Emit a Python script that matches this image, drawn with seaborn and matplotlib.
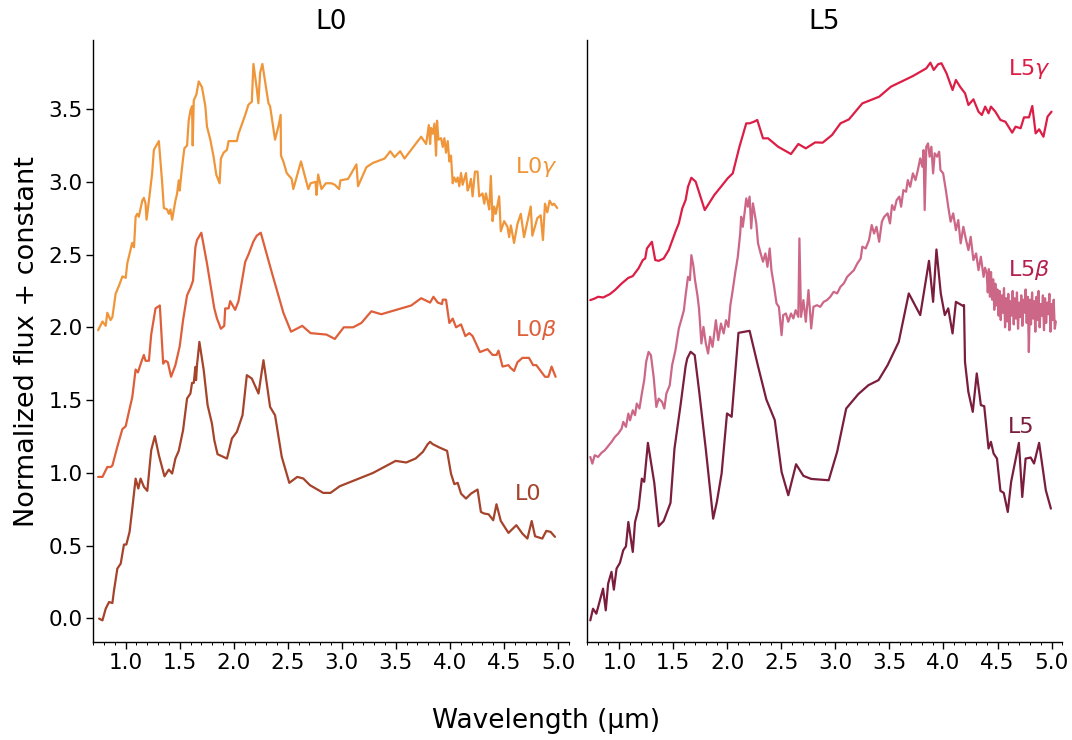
import numpy as np
import pandas as pd
import matplotlib
matplotlib.use("Agg")
import matplotlib.pyplot as plt
from matplotlib.ticker import MultipleLocator
import seaborn as sns

# ---- spectra (wavelength in micron, normalized flux + offset) ----
l0g_wl = [0.745, 0.785, 0.815, 0.83, 0.86, 0.877, 0.907, 0.94, 0.97, 1.0, 1.015, 1.06, 1.077, 1.092,
          1.107, 1.122, 1.153, 1.168, 1.184, 1.193, 1.215, 1.245, 1.261, 1.291, 1.307, 1.338, 1.353,
          1.384, 1.399, 1.414, 1.43, 1.46, 1.476, 1.491, 1.5, 1.513, 1.531, 1.543, 1.568, 1.583, 1.599,
          1.614, 1.62, 1.63, 1.654, 1.666, 1.676, 1.706, 1.737, 1.752, 1.783, 1.814, 1.838, 1.869,
          1.881, 1.906, 1.937, 1.952, 2.029, 2.044, 2.106, 2.136, 2.167, 2.182, 2.213, 2.228, 2.244,
          2.265, 2.29, 2.321, 2.336, 2.382, 2.413, 2.434, 2.437, 2.459, 2.49, 2.536, 2.551, 2.622,
          2.69, 2.711, 2.757, 2.766, 2.781, 2.812, 2.852, 2.904, 2.935, 2.975, 2.987, 3.058, 3.135,
          3.15, 3.227, 3.288, 3.396, 3.448, 3.488, 3.54, 3.58, 3.734, 3.78, 3.805, 3.817, 3.826,
          3.841, 3.857, 3.872, 3.881, 3.894, 3.918, 3.934, 3.949, 3.964, 3.98, 3.995, 4.01, 4.026,
          4.04, 4.057, 4.072, 4.087, 4.103, 4.118, 4.133, 4.149, 4.164, 4.18, 4.195, 4.21, 4.232,
          4.256, 4.271, 4.302, 4.318, 4.333, 4.348, 4.364, 4.379, 4.395, 4.41, 4.425, 4.456, 4.471,
          4.502, 4.533, 4.548, 4.564, 4.594, 4.625, 4.656, 4.686, 4.748, 4.763, 4.809, 4.84, 4.861,
          4.88, 4.901, 4.923, 4.947, 4.963, 4.993]
l0g_fx = [1.98, 2.04, 2.01, 2.10, 2.05, 2.07, 2.23, 2.29, 2.35, 2.34, 2.44, 2.58, 2.55, 2.76,
          2.78, 2.76, 2.87, 2.89, 2.85, 2.74, 2.87, 3.06, 3.22, 3.26, 3.28, 2.99, 2.82,
          2.81, 2.78, 2.81, 2.74, 2.87, 2.92, 3.01, 2.94, 3.04, 3.16, 3.23, 3.25, 3.42, 3.49,
          3.52, 3.25, 3.56, 3.60, 3.65, 3.69, 3.65, 3.52, 3.38, 3.29, 3.17, 3.05, 2.99,
          3.16, 3.20, 3.22, 3.28, 3.28, 3.33, 3.46, 3.53, 3.55, 3.81, 3.64, 3.54, 3.75,
          3.81, 3.69, 3.54, 3.52, 3.29, 3.38, 3.46, 3.18, 3.14, 3.06, 3.02, 2.95, 3.14,
          2.95, 2.99, 3.00, 2.91, 3.05, 2.95, 2.99, 2.99, 2.98, 2.95, 3.01, 3.02, 3.12,
          2.97, 3.10, 3.13, 3.16, 3.21, 3.17, 3.21, 3.16, 3.31, 3.26, 3.39, 3.26, 3.37,
          3.33, 3.40, 3.18, 3.42, 3.29, 3.30, 3.24, 3.30, 3.20, 3.28, 3.14, 3.18, 2.99,
          3.03, 3.00, 3.03, 2.97, 3.06, 2.98, 3.02, 3.06, 2.94, 2.97, 3.02, 2.90, 3.07,
          3.07, 2.90, 2.92, 2.85, 2.92, 2.87, 2.81, 3.04, 2.73, 2.83, 2.78, 2.90, 2.66,
          2.73, 2.69, 2.62, 2.70, 2.58, 2.71, 2.78, 2.62, 2.83, 2.63, 2.75, 2.77, 2.60,
          2.85, 2.79, 2.87, 2.84, 2.85, 2.82]

l0b_wl = [0.745, 0.785, 0.83, 0.861, 0.877, 0.923, 0.969, 1.0, 1.03, 1.061, 1.092, 1.113, 1.144,
          1.168, 1.184, 1.215, 1.236, 1.276, 1.316, 1.347, 1.368, 1.39, 1.42, 1.46, 1.5, 1.531,
          1.568, 1.599, 1.623, 1.645, 1.66, 1.70, 1.752, 1.82, 1.845, 1.881, 1.912, 1.921, 1.952,
          1.967, 2.013, 2.044, 2.106, 2.136, 2.182, 2.213, 2.25, 2.351, 2.459, 2.53, 2.634, 2.711,
          2.858, 2.935, 3.018, 3.104, 3.181, 3.273, 3.365, 3.642, 3.734, 3.817, 3.848, 3.887,
          3.927, 3.934, 3.964, 3.995, 4.026, 4.057, 4.103, 4.143, 4.18, 4.21, 4.278, 4.348, 4.395,
          4.431, 4.45, 4.487, 4.542, 4.563, 4.594, 4.625, 4.671, 4.732, 4.77, 4.80, 4.88, 4.911,
          4.941, 4.978]
l0b_fx = [0.972, 0.972, 1.04, 1.04, 1.05, 1.18, 1.30, 1.32, 1.42, 1.52, 1.71, 1.69, 1.76,
          1.81, 1.77, 1.77, 1.95, 2.13, 2.15, 1.75, 1.77, 1.76, 1.66, 1.74, 1.87, 2.05,
          2.22, 2.27, 2.32, 2.55, 2.60, 2.65, 2.44, 2.13, 2.06, 1.99, 2.01, 2.13, 2.13,
          2.18, 2.12, 2.18, 2.45, 2.50, 2.59, 2.63, 2.65, 2.38, 2.10, 1.97, 2.01, 1.96,
          1.95, 1.92, 2.00, 2.00, 2.03, 2.11, 2.09, 2.15, 2.20, 2.17, 2.21, 2.17,
          2.16, 2.19, 2.19, 2.03, 2.06, 2.00, 2.02, 1.94, 1.96, 1.94, 1.83, 1.85, 1.81,
          1.81, 1.84, 1.73, 1.74, 1.72, 1.70, 1.76, 1.79, 1.79, 1.74, 1.74, 1.66, 1.66,
          1.73, 1.66]

l0_wl = [0.754, 0.785, 0.815, 0.846, 0.877, 0.892, 0.923, 0.954, 0.984, 1.006, 1.036, 1.061, 1.092,
         1.117, 1.138, 1.169, 1.2, 1.236, 1.27, 1.307, 1.359, 1.399, 1.43, 1.46, 1.491, 1.531,
         1.568, 1.599, 1.614, 1.63, 1.645, 1.651, 1.66, 1.682, 1.722, 1.758, 1.798, 1.82, 1.85,
         1.937, 1.983, 2.029, 2.081, 2.121, 2.167, 2.229, 2.275, 2.336, 2.382, 2.444, 2.514,
         2.588, 2.643, 2.705, 2.828, 2.895, 2.981, 3.288, 3.498, 3.596, 3.682, 3.75, 3.795,
         3.817, 3.841, 3.903, 3.974, 4.01, 4.041, 4.072, 4.103, 4.149, 4.195, 4.256, 4.287,
         4.318, 4.358, 4.401, 4.431, 4.471, 4.542, 4.615, 4.671, 4.717, 4.757, 4.788, 4.855,
         4.892, 4.932, 4.972]
l0_fx = [-0.002, -0.014, 0.066, 0.112, 0.105, 0.192, 0.342, 0.376, 0.507, 0.507, 0.594, 0.754, 0.96,
         0.892, 0.96, 0.903, 0.876, 1.155, 1.252, 1.121, 0.976, 1.022, 0.995, 1.098, 1.151, 1.293,
         1.511, 1.545, 1.618, 1.618, 1.728, 1.637, 1.74, 1.90, 1.706, 1.465, 1.339, 1.224, 1.128,
         1.098, 1.236, 1.282, 1.396, 1.671, 1.648, 1.545, 1.774, 1.453, 1.396, 1.11, 0.931,
         0.972, 0.961, 0.915, 0.862, 0.862, 0.908, 0.999, 1.082, 1.071, 1.098, 1.144, 1.197,
         1.213, 1.197, 1.174, 1.151, 0.995, 0.922, 0.931, 0.857, 0.823, 0.857, 0.885, 0.731,
         0.72, 0.715, 0.674, 0.784, 0.669, 0.587, 0.640, 0.582, 0.548, 0.669, 0.564, 0.548,
         0.601, 0.594, 0.56]

l5g_wl = [0.732, 0.773, 0.804, 0.851, 0.913, 0.96, 1.022, 1.084, 1.125, 1.178, 1.218, 1.24, 1.256,
          1.302, 1.333, 1.365, 1.411, 1.458, 1.52, 1.551, 1.583, 1.614, 1.636, 1.667, 1.707, 1.791,
          1.879, 1.941, 2.003, 2.05, 2.112, 2.175, 2.206, 2.246, 2.277, 2.33, 2.377, 2.47, 2.589,
          2.657, 2.726, 2.813, 2.882, 2.969, 3.047, 3.125, 3.249, 3.405, 3.514, 3.592, 3.717,
          3.841, 3.879, 3.91, 3.95, 3.981, 4.028, 4.084, 4.115, 4.153, 4.2, 4.231, 4.277, 4.324,
          4.355, 4.386, 4.417, 4.439, 4.48, 4.527, 4.573, 4.636, 4.667, 4.714, 4.745, 4.791,
          4.822, 4.853, 4.885, 4.925, 4.963, 5.0]
l5g_fx = [2.187, 2.198, 2.21, 2.205, 2.228, 2.256, 2.301, 2.34, 2.352, 2.405, 2.462, 2.473, 2.542,
          2.588, 2.462, 2.457, 2.473, 2.531, 2.657, 2.714, 2.817, 2.875, 2.966, 3.028, 3.001, 2.806,
          2.909, 2.966, 3.024, 3.058, 3.241, 3.402, 3.402, 3.413, 3.425, 3.299, 3.299, 3.241, 3.191,
          3.26, 3.23, 3.271, 3.269, 3.322, 3.402, 3.429, 3.539, 3.585, 3.654, 3.682, 3.727,
          3.78, 3.819, 3.769, 3.808, 3.815, 3.746, 3.631, 3.70, 3.654, 3.608, 3.528, 3.567, 3.482,
          3.459, 3.517, 3.471, 3.517, 3.482, 3.425, 3.413, 3.338, 3.379, 3.368, 3.443, 3.443,
          3.521, 3.333, 3.361, 3.31, 3.448, 3.482]

l5b_wl = [0.732, 0.751, 0.773, 0.804, 0.835, 0.866, 0.897, 0.928, 0.96, 0.991, 1.022, 1.037, 1.062,
          1.084, 1.1, 1.125, 1.146, 1.162, 1.187, 1.209, 1.231, 1.249, 1.271, 1.293, 1.318, 1.343,
          1.365, 1.396, 1.417, 1.436, 1.467, 1.489, 1.52, 1.551, 1.573, 1.598, 1.614, 1.636, 1.654,
          1.667, 1.685, 1.701, 1.723, 1.738, 1.76, 1.779, 1.801, 1.822, 1.841, 1.863, 1.894, 1.916,
          1.941, 1.966, 1.988, 2.01, 2.028, 2.05, 2.072, 2.097, 2.119, 2.128, 2.143, 2.159, 2.175,
          2.19, 2.206, 2.221, 2.237, 2.252, 2.268, 2.284, 2.308, 2.33, 2.352, 2.371, 2.392, 2.408,
          2.433, 2.455, 2.477, 2.502, 2.517, 2.542, 2.564, 2.589, 2.611, 2.632, 2.657, 2.667, 2.682,
          2.704, 2.726, 2.751, 2.776, 2.797, 2.829, 2.86, 2.891, 2.922, 2.953, 2.984, 3.016, 3.047,
          3.078, 3.109, 3.14, 3.171, 3.203, 3.234, 3.249, 3.28, 3.311, 3.336, 3.358, 3.38, 3.405,
          3.43, 3.452, 3.483, 3.505, 3.524, 3.545, 3.567, 3.592, 3.608, 3.629, 3.654, 3.67, 3.692,
          3.717, 3.741, 3.763, 3.785, 3.804, 3.816, 3.826, 3.841, 3.857, 3.872, 3.888, 3.904, 3.919,
          3.941, 3.96, 3.972, 3.997, 4.022, 4.044, 4.066, 4.09, 4.115, 4.137, 4.159, 4.184, 4.209,
          4.231, 4.252, 4.277, 4.302, 4.324, 4.346, 4.371, 4.385,
          4.40, 4.41, 4.42, 4.43, 4.44, 4.45, 4.46, 4.47, 4.48, 4.49, 4.50, 4.51, 4.52, 4.53, 4.54,
          4.55, 4.56, 4.57, 4.58, 4.59, 4.60, 4.61, 4.62, 4.63, 4.64, 4.65, 4.66, 4.67, 4.68, 4.69,
          4.70, 4.71, 4.72, 4.73, 4.74, 4.75, 4.76, 4.77, 4.78, 4.79, 4.80, 4.81, 4.82, 4.83, 4.84,
          4.85, 4.86, 4.87, 4.88, 4.89, 4.90, 4.91, 4.92, 4.93, 4.94, 4.95, 4.96, 4.97, 4.98, 4.99,
          5.00, 5.01, 5.02, 5.03, 5.04]
l5b_fx = [1.109, 1.063, 1.121, 1.109, 1.137, 1.155, 1.183, 1.212, 1.247, 1.27, 1.304, 1.35, 1.316,
          1.407, 1.361, 1.43, 1.396, 1.476, 1.442, 1.545, 1.637, 1.763, 1.831, 1.808, 1.66, 1.453,
          1.51, 1.487, 1.442, 1.545, 1.602, 1.74, 1.843, 1.992, 2.049, 2.118, 2.221, 2.347, 2.324,
          2.496, 2.427, 2.324, 2.221, 2.129, 1.889, 2.003, 1.889, 1.82, 1.935, 1.866, 2.049, 1.912,
          2.026, 1.958, 2.049, 2.003, 2.152, 2.256, 2.37, 2.485, 2.645, 2.76, 2.691, 2.783, 2.886,
          2.829, 2.898, 2.68, 2.852, 2.783, 2.714, 2.577, 2.508, 2.451, 2.508, 2.416, 2.542, 2.393,
          2.279, 2.164, 2.141, 1.946, 2.084, 2.095, 2.038, 2.095, 2.061, 2.118, 2.072, 2.611, 2.072,
          2.187, 2.038, 2.256, 1.992, 2.141, 2.152, 2.141, 2.175, 2.187, 2.21, 2.244, 2.233, 2.279,
          2.302, 2.347, 2.37, 2.393, 2.439, 2.473, 2.554, 2.542, 2.60, 2.703, 2.645, 2.691, 2.588,
          2.726, 2.76, 2.783, 2.714, 2.84, 2.806, 2.875, 2.898, 2.829, 2.943, 2.932, 3.012, 2.966,
          3.058, 3.012, 3.081, 3.161, 3.104, 3.218, 2.806, 3.241, 3.264, 3.173, 3.241, 3.058, 3.196,
          3.173, 3.207, 3.081, 3.058, 2.943, 2.829, 2.726, 2.783, 2.668, 2.737, 2.577, 2.691, 2.60,
          2.531, 2.622, 2.462, 2.508, 2.393, 2.485, 2.347, 2.41,
          2.37, 2.24, 2.40, 2.21, 2.38, 2.19, 2.33, 2.12, 2.30, 2.15, 2.26, 2.08, 2.25, 2.05, 2.22,
          2.10, 2.27, 2.00, 2.20, 2.04, 2.23, 1.98, 2.18, 2.08, 2.25, 2.02, 2.20, 2.06, 2.24, 1.99,
          2.17, 2.07, 2.22, 2.01, 2.19, 2.10, 2.26, 2.03, 2.21, 1.83, 2.19, 2.02, 2.24, 2.06, 2.18,
          1.97, 2.21, 2.05, 2.25, 2.00, 2.16, 2.08, 2.22, 1.98, 2.20, 2.03, 2.17, 2.09, 2.23, 1.97,
          2.16, 2.05, 2.19, 1.99, 2.04]

l5_wl = [0.732, 0.757, 0.788, 0.85, 0.875, 0.897, 0.928, 0.95, 0.975, 1.006, 1.037, 1.062, 1.084,
         1.1, 1.125, 1.146, 1.178, 1.209, 1.231, 1.265, 1.324, 1.365, 1.411, 1.474, 1.511, 1.567,
         1.614, 1.629, 1.66, 1.698, 1.738, 1.8, 1.869, 1.903, 1.947, 1.997, 2.04, 2.103, 2.206,
         2.284, 2.361, 2.439, 2.502, 2.564, 2.636, 2.704, 2.776, 2.938, 3.016, 3.1, 3.212, 3.305,
         3.399, 3.483, 3.586, 3.679, 3.785, 3.866, 3.904, 3.935, 3.975, 4.012, 4.044, 4.084,
         4.115, 4.184, 4.19, 4.199, 4.23, 4.271, 4.308, 4.346, 4.377, 4.417, 4.439, 4.464, 4.495,
         4.527, 4.558, 4.595, 4.626, 4.698, 4.729, 4.76, 4.807, 4.838, 4.885, 4.947, 4.994]
l5_fx = [-0.014, 0.066, 0.032, 0.204, 0.055, 0.238, 0.319, 0.197, 0.342, 0.381, 0.468, 0.495, 0.662,
         0.582, 0.456, 0.662, 0.754, 0.96, 0.938, 1.206, 0.931, 0.633, 0.669, 0.793, 1.167, 1.465,
         1.733, 1.786, 1.832, 1.809, 1.568, 1.167, 0.685, 0.80, 0.995, 1.408, 1.385, 1.962, 1.976,
         1.733, 1.504, 1.362, 1.006, 0.846, 1.059, 0.979, 0.958, 0.949, 1.144, 1.442, 1.541, 1.602,
         1.637, 1.74, 1.90, 2.233, 2.084, 2.457, 2.175, 2.535, 2.233, 2.084, 2.13, 1.958,
         2.175, 2.146, 2.153, 1.763, 1.557, 1.419, 1.683, 1.465, 1.458, 1.167, 1.213, 1.132, 1.098,
         0.876, 0.862, 0.731, 0.938, 1.206, 0.834, 1.098, 1.105, 1.064, 1.206, 0.88, 0.754]

# ---- labels and styling ----
panel_titles = ["L0", "L5"]
series_names = [["L0", "L0$\\beta$", "L0$\\gamma$"], ["L5", "L5$\\beta$", "L5$\\gamma$"]]
label_y = [[0.853, 1.98, 3.10], [1.314, 2.393, 3.776]]
colors = [["#a5432b", "#de5f3a", "#f0963a"], ["#7b1d3d", "#b51f4e", "#dc1e46"]]
alphas = [[1.0, 1.0, 1.0], [1.0, 0.68, 1.0]]

panels = [
    [(l0_wl, l0_fx), (l0b_wl, l0b_fx), (l0g_wl, l0g_fx)],
    [(l5_wl, l5_fx), (l5b_wl, l5b_fx), (l5g_wl, l5g_fx)],
]

sns.set_style("ticks", {"axes.edgecolor": "black", "xtick.color": "black",
                        "ytick.color": "black", "text.color": "black",
                        "axes.labelcolor": "black"})
plt.rcParams["font.family"] = ["DejaVu Sans"]
plt.rcParams["axes.linewidth"] = 1.0

fig, axes = plt.subplots(1, 2, figsize=(10.72, 7.40), dpi=100, sharey=True)
fig.subplots_adjust(left=0.087, right=0.991, top=0.946, bottom=0.132, wspace=0.038)

for ax, title, spectra, names, ly, cols, als in zip(axes, panel_titles, panels, series_names,
                                                   label_y, colors, alphas):
    for (wl, fx), name, y, c, a in zip(spectra, names, ly, cols, als):
        df = pd.DataFrame({"wavelength": wl, "flux": fx})
        sns.lineplot(data=df, x="wavelength", y="flux", ax=ax, color=c, alpha=a,
                     lw=1.6, sort=False, estimator=None)
        ax.text(4.6, y, name, color=c, fontsize=16, ha="left", va="center")
    ax.set_title(title, fontsize=19, pad=8)
    ax.set_xlim(0.7, 5.1)
    ax.set_ylim(-0.165, 3.975)
    ax.xaxis.set_major_locator(MultipleLocator(0.5))
    ax.xaxis.set_minor_locator(MultipleLocator(0.1))
    ax.yaxis.set_major_locator(MultipleLocator(0.5))
    ax.tick_params(axis="both", which="major", labelsize=15.5, length=5, width=1.0, pad=2.5)
    ax.tick_params(axis="x", which="minor", length=2.5, width=0.7)
    ax.set_xlabel("")
    ax.set_ylabel("")
    sns.despine(ax=ax)

axes[1].tick_params(axis="y", which="both", labelleft=False, length=0)
axes[0].set_ylabel("Normalized flux + constant", fontsize=19.5, labelpad=6)
fig.supxlabel("Wavelength (µm)", fontsize=19, x=0.509, y=0.008)

fig.savefig("out.png", dpi=100)
